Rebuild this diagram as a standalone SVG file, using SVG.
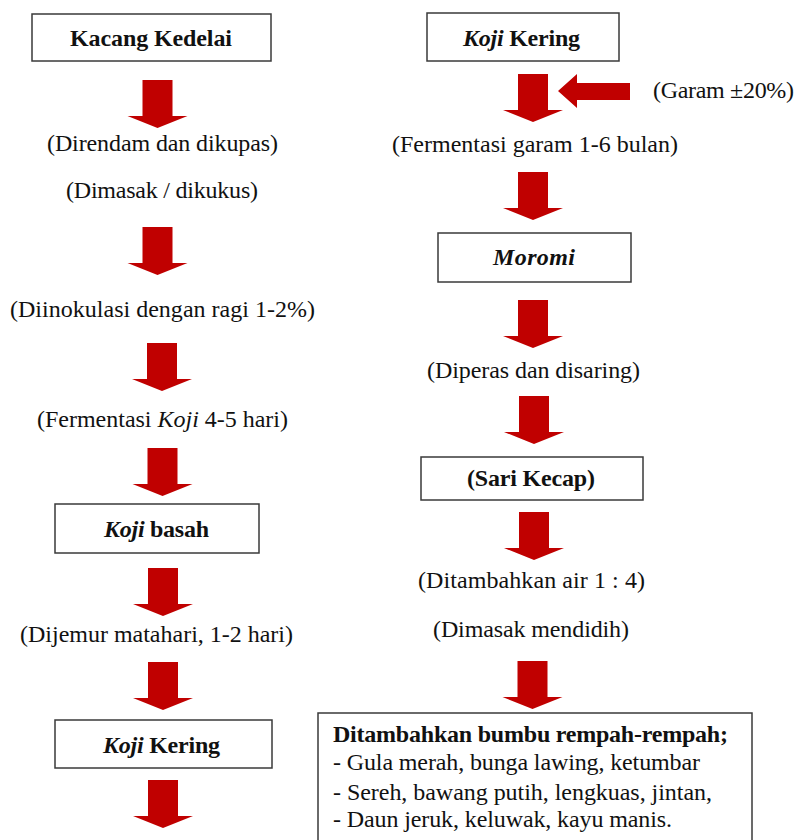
<svg xmlns="http://www.w3.org/2000/svg" xmlns:xlink="http://www.w3.org/1999/xlink" width="798" height="840" viewBox="0 0 798 840">
<style>
.box{fill:#fff;stroke:#3a3a3a;stroke-width:1.5}
.t{font-family:"Liberation Serif","Times New Roman",serif;font-size:24px;fill:#111}
.b{font-weight:bold}
.i{font-style:italic}
.arr{fill:#c00000}
</style>
<defs>
<path id="down" d="M-15,0 H15 V36 H30 L0,48 L-30,36 H-15 Z"/>
</defs>
<rect width="798" height="840" fill="#fff"/>
<g id="connectors" class="arr">
<use xlink:href="#down" href="#down" x="157.5" y="80"/>
<use xlink:href="#down" href="#down" x="157.5" y="227"/>
<use xlink:href="#down" href="#down" x="162" y="343"/>
<use xlink:href="#down" href="#down" x="162.5" y="448"/>
<use xlink:href="#down" href="#down" x="163" y="568"/>
<use xlink:href="#down" href="#down" x="163" y="662"/>
<use xlink:href="#down" href="#down" x="163" y="780"/>
<use xlink:href="#down" href="#down" x="533" y="74"/>
<use xlink:href="#down" href="#down" x="533" y="172"/>
<use xlink:href="#down" href="#down" x="533" y="300"/>
<use xlink:href="#down" href="#down" x="534" y="396"/>
<use xlink:href="#down" href="#down" x="534" y="512"/>
<use xlink:href="#down" href="#down" x="532.5" y="661"/>
<path d="M558,91 L577,74 V83 H630 V100 H577 V108 Z"/>
</g>
<g id="n-kacang"><rect class="box" x="32" y="14" width="239" height="47"/><text class="t b" x="70" y="46" textLength="162">Kacang Kedelai</text></g>
<g id="l-direndam"><text class="t" x="47" y="151" textLength="231">(Direndam dan dikupas)</text></g>
<g id="l-dimasak"><text class="t" x="66" y="198" textLength="192">(Dimasak / dikukus)</text></g>
<g id="l-inokulasi"><text class="t" x="10" y="317" textLength="305">(Diinokulasi dengan ragi 1-2%)</text></g>
<g id="l-fermkoji"><text class="t" x="37" y="427" textLength="251">(Fermentasi <tspan class="i">Koji</tspan> 4-5 hari)</text></g>
<g id="n-kojibasah"><rect class="box" x="55" y="504" width="204" height="49"/><text class="t b" x="104" y="537" textLength="105"><tspan class="i">Koji</tspan> basah</text></g>
<g id="l-jemur"><text class="t" x="20" y="642" textLength="273">(Dijemur matahari, 1-2 hari)</text></g>
<g id="n-kojikering-l"><rect class="box" x="55" y="720" width="217" height="48"/><text class="t b" x="103" y="753" textLength="117"><tspan class="i">Koji</tspan> Kering</text></g>
<g id="n-kojikering-r"><rect class="box" x="427" y="13" width="192" height="48"/><text class="t b" x="463" y="46" textLength="117"><tspan class="i">Koji</tspan> Kering</text></g>
<g id="l-garam"><text class="t" x="653" y="98" textLength="141">(Garam ±20%)</text></g>
<g id="l-fermgaram"><text class="t" x="392" y="152" textLength="286">(Fermentasi garam 1-6 bulan)</text></g>
<g id="n-moromi"><rect class="box" x="438" y="233" width="193" height="49"/><text class="t b i" x="493" y="265" textLength="82">Moromi</text></g>
<g id="l-diperas"><text class="t" x="427" y="378" textLength="213">(Diperas dan disaring)</text></g>
<g id="n-sarikecap"><rect class="box" x="421" y="457" width="222" height="43"/><text class="t b" x="467" y="486" textLength="128">(Sari Kecap)</text></g>
<g id="l-air"><text class="t" x="418" y="588" textLength="227">(Ditambahkan  air 1 : 4)</text></g>
<g id="l-mendidih"><text class="t" x="433" y="637" textLength="196">(Dimasak mendidih)</text></g>
<g id="n-bumbu"><rect class="box" x="318" y="713" width="434" height="140"/>
<text class="t b" x="333" y="742" textLength="395">Ditambahkan bumbu rempah-rempah;</text>
<text class="t" x="333" y="770" textLength="367">- Gula merah, bunga lawing, ketumbar</text>
<text class="t" x="333" y="800" textLength="379">- Sereh, bawang putih, lengkuas, jintan,</text>
<text class="t" x="333" y="827" textLength="339">- Daun jeruk, keluwak, kayu manis.</text>
</g>
</svg>
